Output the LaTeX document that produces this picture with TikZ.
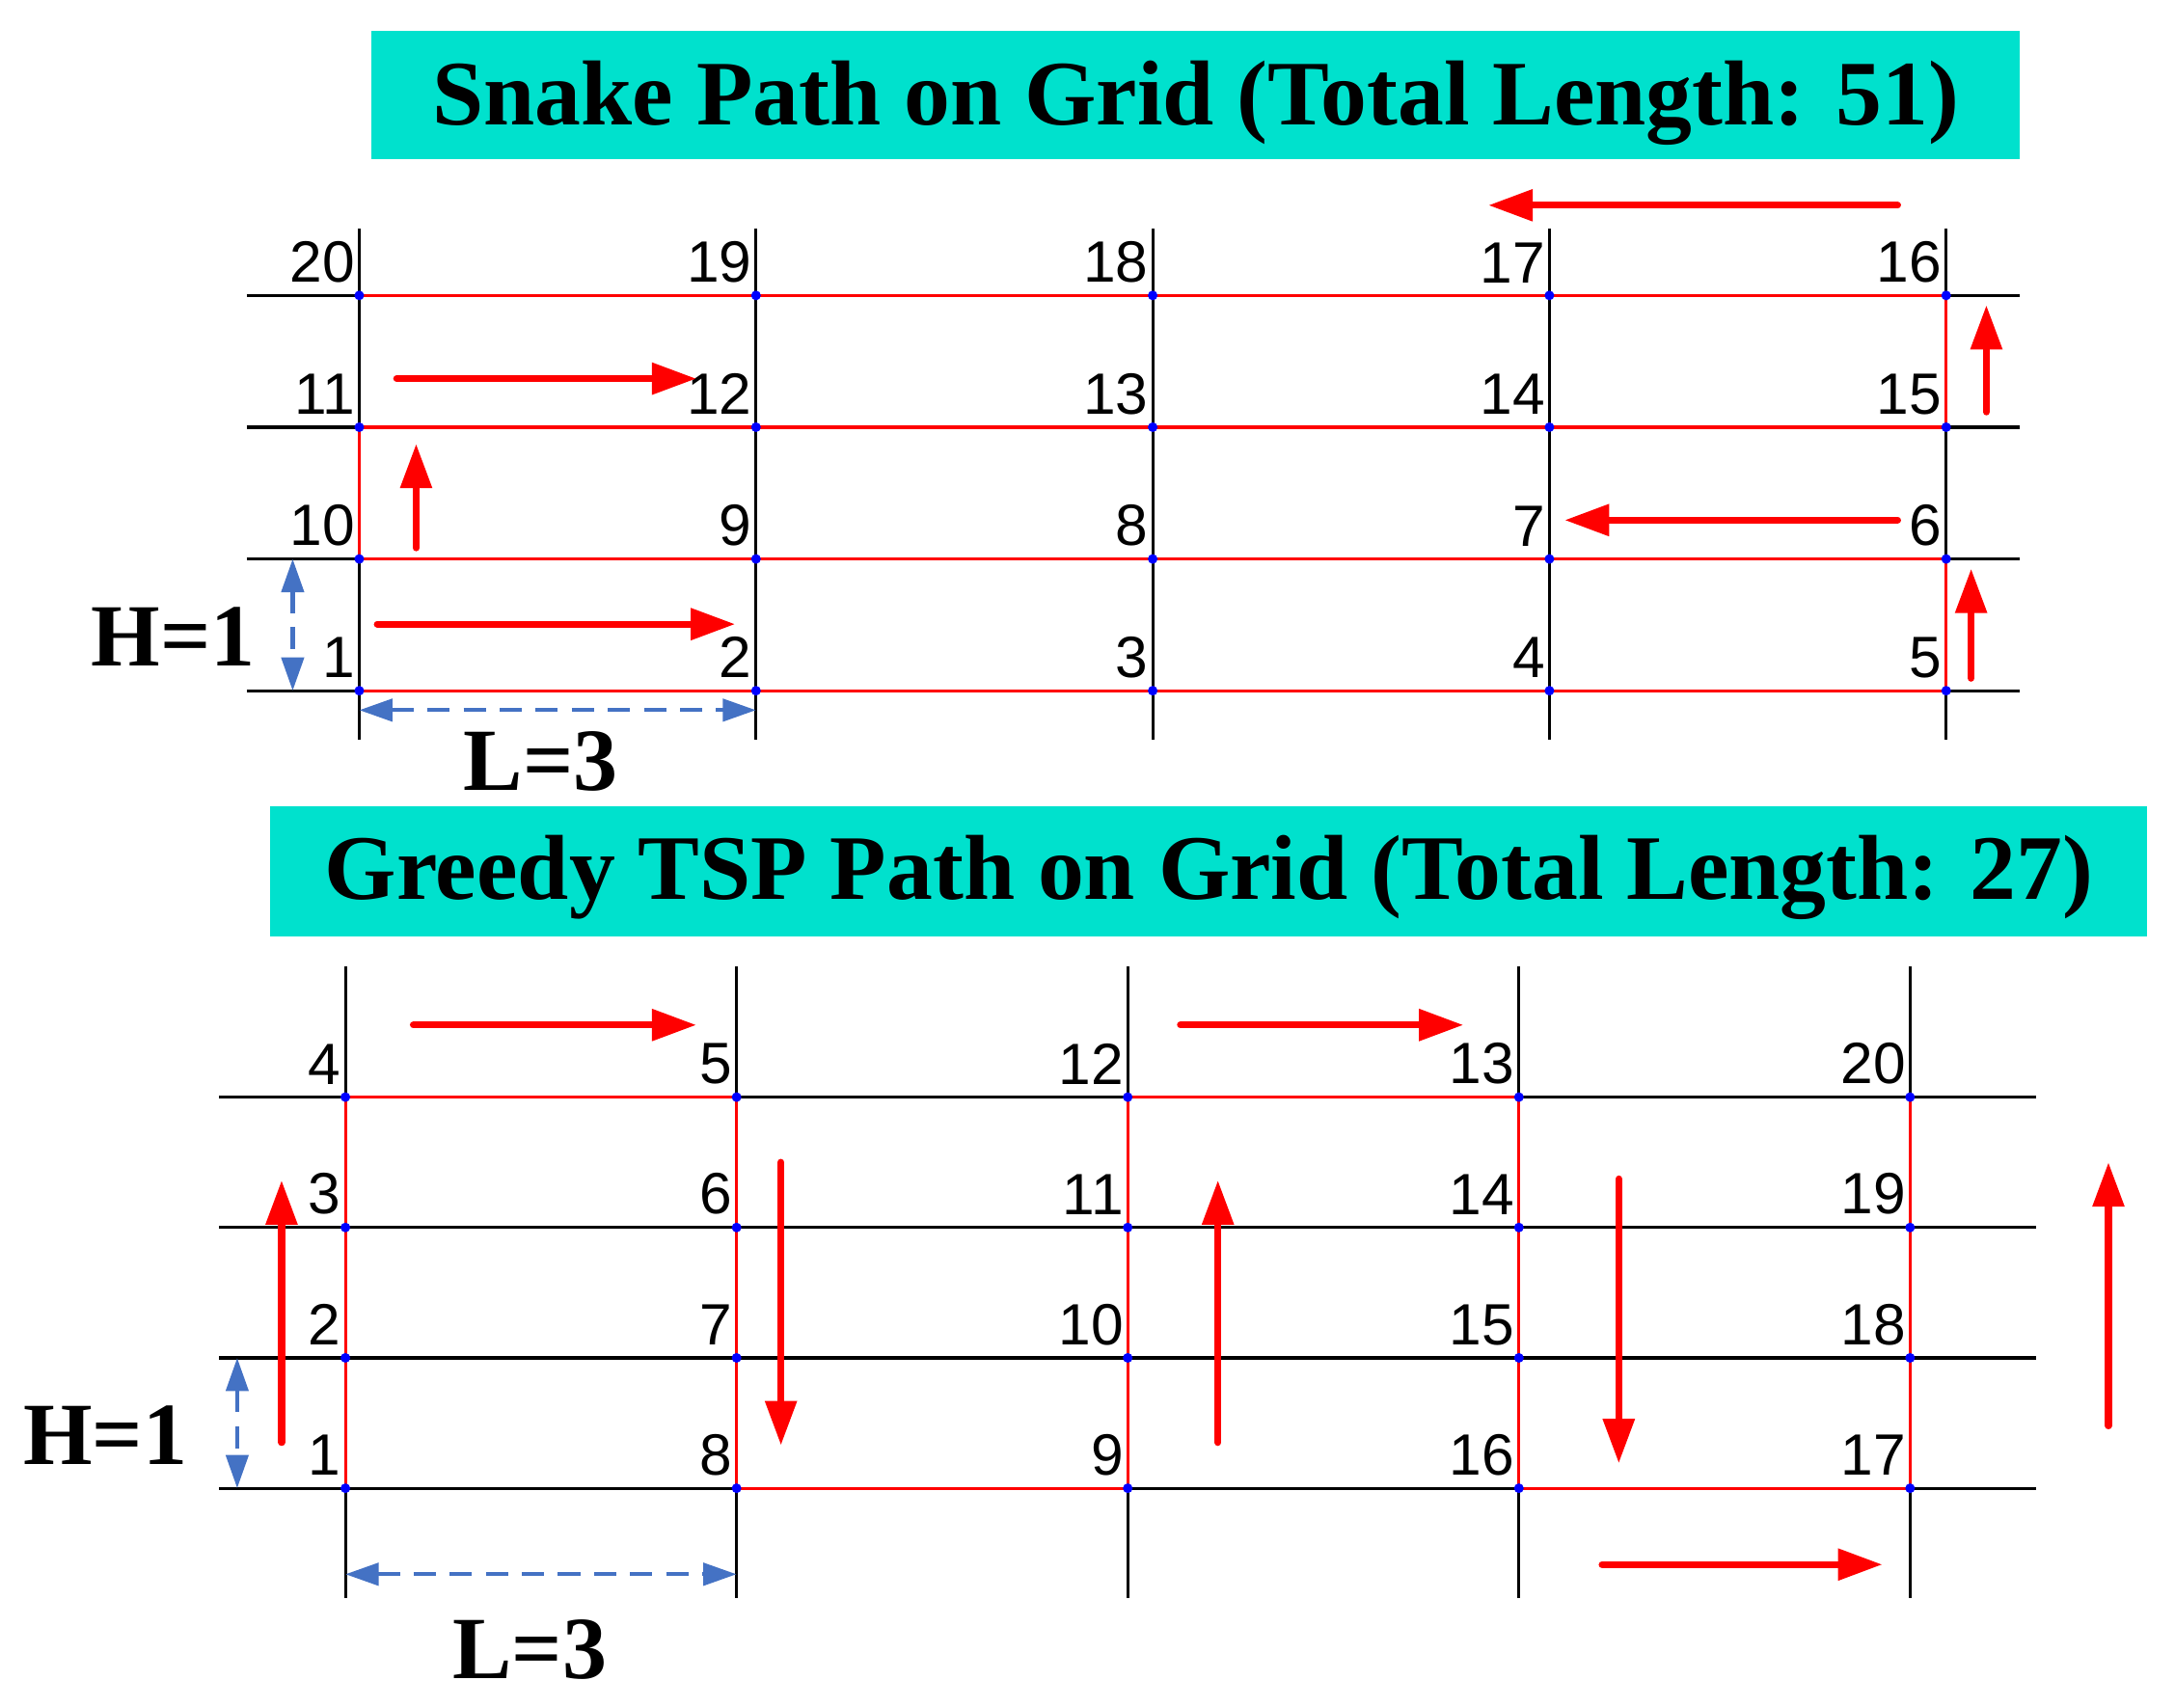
\documentclass[tikz,border=0pt]{standalone}
\usepackage{fontspec}
\setmainfont{Liberation Serif}
\newfontfamily\numfont{Liberation Sans}
\usetikzlibrary{arrows.meta}
\definecolor{titlecyan}{RGB}{0,225,205}
\definecolor{dimblue}{RGB}{68,114,196}
\begin{document}
\begin{tikzpicture}[x=1pt,y=-1pt,
  gridline/.style={black, line width=2.2pt},
  route/.style={red, line width=2.2pt},
  gdot/.style={circle, fill=blue, inner sep=0pt, minimum size=7pt},
  flow/.style={red, line width=5pt, line cap=round, -{Triangle[length=32pt,width=22pt]}},
  dimarrow/.style={dimblue, line width=3pt, dash pattern=on 16pt off 10pt, {Triangle[length=24pt,width=16pt]}-{Triangle[length=24pt,width=16pt]}},
  num/.style={font=\numfont\fontsize{42}{44}\selectfont, inner sep=0pt, anchor=south east},
  titlebox/.style={fill=titlecyan, inner sep=0pt},
  titletext/.style={font=\bfseries\fontsize{66.5}{70}\selectfont, inner sep=0pt},
  dimlabel/.style={font=\bfseries\fontsize{64}{66}\selectfont, inner sep=0pt, anchor=base}
]
\useasboundingbox (0,0) rectangle (1568,1231);

% ---------- titles ----------
\node[titlebox, minimum width=1188pt, minimum height=93pt] (title1) at (862,68.5) {};
\node[titletext] (title1text) at ([yshift=-6pt]title1.center) {Snake Path on Grid (Total Length: 51)};
\node[titlebox, minimum width=1353pt, minimum height=94pt] (title2) at (871.5,628) {};
\node[titletext] (title2text) at ([yshift=-5pt]title2.center) {Greedy TSP Path on Grid (Total Length: 27)};

% ---------- top grid ----------
\foreach \c/\x in {1/259,2/545,3/831,4/1117,5/1403}{
  \foreach \r/\y in {1/498,2/403,3/308,4/213}{
    \coordinate (A\c\r) at (\x,\y);
  }
  \coordinate (AT\c) at (\x,165);
  \coordinate (AB\c) at (\x,533);
  \draw[gridline] (AT\c) -- (AB\c);
}
\foreach \r/\y in {1/498,2/403,3/308,4/213}{
  \coordinate (AL\r) at (178,\y);
  \coordinate (AR\r) at (1456,\y);
  \draw[gridline] (AL\r) -- (AR\r);
}
\draw[route] (A11) -- (A51) -- (A52) -- (A12) -- (A13) -- (A53) -- (A54) -- (A14);
\foreach \c in {1,...,5}{\foreach \r in {1,...,4}{\node[gdot] (dA\c\r) at (A\c\r) {};}}
\foreach \c/\r/\t in {1/1/1,2/1/2,3/1/3,4/1/4,5/1/5,
                      1/2/10,2/2/9,3/2/8,4/2/7,5/2/6,
                      1/3/11,2/3/12,3/3/13,4/3/14,5/3/15,
                      1/4/20,2/4/19,3/4/18,4/4/17,5/4/16}{
  \node[num] (lA\c\r) at ([shift={(-3,-9)}]A\c\r) {\t};
}
% flow arrows (top)
\coordinate (fa1s) at (286,273);  \coordinate (fa1e) at (502,273);
\coordinate (fa2s) at (272,450);  \coordinate (fa2e) at (530,450);
\coordinate (fa3s) at (300,395);  \coordinate (fa3e) at (300,320);
\coordinate (fa4s) at (1368,375); \coordinate (fa4e) at (1128,375);
\coordinate (fa5s) at (1368,148); \coordinate (fa5e) at (1073,148);
\coordinate (fa6s) at (1432,297); \coordinate (fa6e) at (1432,220);
\coordinate (fa7s) at (1421,489); \coordinate (fa7e) at (1421,410);
\foreach \i in {1,...,7}{\draw[flow] (fa\i s) -- (fa\i e);}
% dimensions (top)
\coordinate (hA1) at (211,403); \coordinate (hA2) at (211,498);
\coordinate (wA1) at (259,512); \coordinate (wA2) at (545,512);
\draw[dimarrow] (hA1) -- (hA2);
\draw[dimarrow] (wA1) -- (wA2);
\node[dimlabel] (HA) at (125,480) {H=1};
\node[dimlabel] (LA) at (390,570) {L=3};

% ---------- bottom grid ----------
\foreach \c/\x in {1/249,2/531,3/813,4/1095,5/1377}{
  \foreach \r/\y in {1/1073,2/979,3/885,4/791}{
    \coordinate (B\c\r) at (\x,\y);
  }
  \coordinate (BT\c) at (\x,697);
  \coordinate (BB\c) at (\x,1152);
  \draw[gridline] (BT\c) -- (BB\c);
}
\foreach \r/\y in {1/1073,2/979,3/885,4/791}{
  \coordinate (BL\r) at (158,\y);
  \coordinate (BR\r) at (1468,\y);
  \draw[gridline] (BL\r) -- (BR\r);
}
\draw[route] (B11) -- (B14) -- (B24) -- (B21) -- (B31) -- (B34) -- (B44) -- (B41) -- (B51) -- (B54);
\foreach \c in {1,...,5}{\foreach \r in {1,...,4}{\node[gdot] (dB\c\r) at (B\c\r) {};}}
\foreach \c/\r/\t in {1/1/1,1/2/2,1/3/3,1/4/4,
                      2/1/8,2/2/7,2/3/6,2/4/5,
                      3/1/9,3/2/10,3/3/11,3/4/12,
                      4/1/16,4/2/15,4/3/14,4/4/13,
                      5/1/17,5/2/18,5/3/19,5/4/20}{
  \node[num] (lB\c\r) at ([shift={(-3,-9)}]B\c\r) {\t};
}
% flow arrows (bottom)
\coordinate (fb1s) at (298,739);  \coordinate (fb1e) at (502,739);
\coordinate (fb2s) at (851,739);  \coordinate (fb2e) at (1055,739);
\coordinate (fb3s) at (203,1040); \coordinate (fb3e) at (203,851);
\coordinate (fb4s) at (563,838);  \coordinate (fb4e) at (563,1042);
\coordinate (fb5s) at (878,1040); \coordinate (fb5e) at (878,851);
\coordinate (fb6s) at (1167,850); \coordinate (fb6e) at (1167,1055);
\coordinate (fb7s) at (1155,1128);\coordinate (fb7e) at (1357,1128);
\coordinate (fb8s) at (1520,1028);\coordinate (fb8e) at (1520,838);
\foreach \i in {1,...,8}{\draw[flow] (fb\i s) -- (fb\i e);}
% dimensions (bottom)
\coordinate (hB1) at (171,979);  \coordinate (hB2) at (171,1073);
\coordinate (wB1) at (249,1135); \coordinate (wB2) at (531,1135);
\draw[dimarrow] (hB1) -- (hB2);
\draw[dimarrow] (wB1) -- (wB2);
\node[dimlabel] (HB) at (76,1056) {H=1};
\node[dimlabel] (LB) at (382,1210) {L=3};
\end{tikzpicture}
\end{document}
